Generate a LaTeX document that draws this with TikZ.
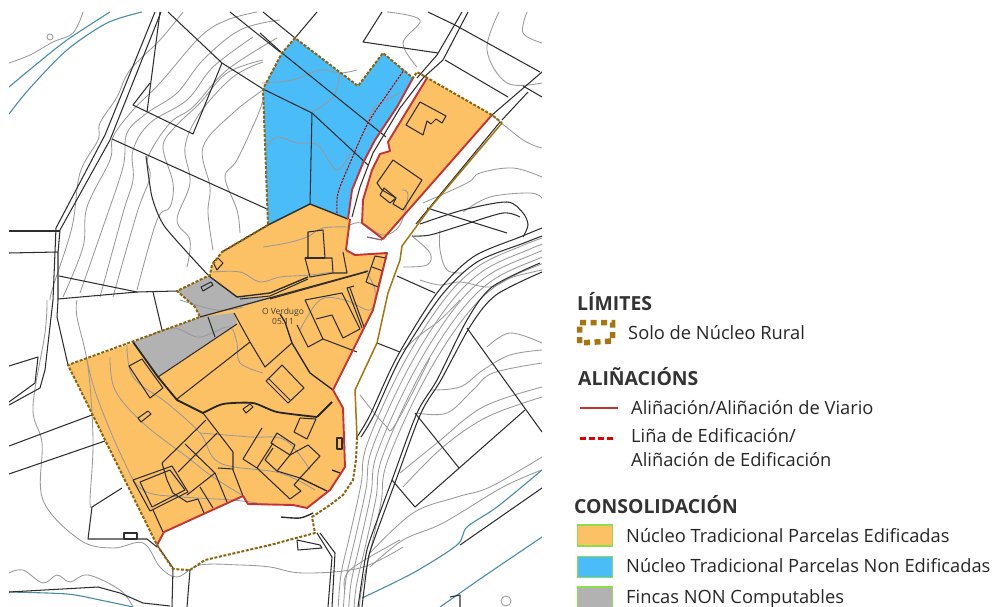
\documentclass[tikz,border=0pt]{standalone}
\usepackage{fontspec}
\setmainfont{Open Sans}
\definecolor{orangefill}{HTML}{FDC165}
\definecolor{bluefill}{HTML}{4ABCF8}
\definecolor{greyfill}{HTML}{B2B2B2}
\definecolor{limegreen}{HTML}{8BE04A}
\definecolor{brownline}{HTML}{A5760F}
\definecolor{redline}{HTML}{C83232}
\definecolor{riverblue}{HTML}{4A8CA8}
\tikzset{
 contour/.style={draw=black!40,line width=.85pt,line join=round},
 parcel/.style={draw=black!82,line width=1.05pt,line join=round},
 thick parcel/.style={draw=black!85,line width=1.8pt,line join=round},
 river/.style={draw=riverblue,line width=1.1pt},
 alignment/.style={draw=redline,line width=1.9pt,line join=round},
 limit/.style={draw=brownline!85!black,line width=2pt,dash pattern=on 3pt off 1.6pt,line join=round},
 limit solid/.style={draw=brownline,line width=1.5pt,line join=round},
 edification/.style={draw=red!75!black,line width=1.1pt,dash pattern=on 2.2pt off 1.2pt},
 legend text/.style={anchor=base west,inner sep=0pt,font=\fontsize{18.3}{20}\selectfont,text=black!85},
 legend title/.style={anchor=base west,inner sep=0pt,font=\fontsize{19.4}{20}\selectfont\bfseries,text=black!80},
 swatch/.style={draw=limegreen,line width=1.5pt,minimum width=35pt,minimum height=21pt,inner sep=0pt,anchor=north west}
}
\newcommand{\ctr}[1]{\draw[contour] plot[smooth,tension=.6] coordinates {#1};}
\begin{document}
\begin{tikzpicture}[x=1pt,y=-1pt]
\useasboundingbox (0,0) rectangle (995,607);
\begin{scope}
\clip (9,12) rectangle (542,607);
% fills
\fill[bluefill] (295,38)--(282,53)--(263,89)--(268,225)--(310,204)--(348,219)--(352,190)--(363,163)--(375,140)--(397,107)--(413,78)--(383,53)--(358,86)--cycle;
\fill[orangefill] (427,78)--(492,115)--(383,239)--(362,223)--(363,200)--(372,170)--(380,154)--(390,151)--(388,142)--cycle;
\fill[orangefill] (310,204)--(350,219)--(346,250)--(355,255)--(387,253)--(373,310)--(363,330)--(333,390)--(343,408)--(345,467)--(330,490)--(307,508)--(293,505)--(248,504)--(243,496)--(164,532)--(157,545)--(68,365)--(133,343)--(200,317)--(237,297)--(210,275)--(212,265)--(222,252)--(268,225)--cycle;
\fill[greyfill] (177,291)--(209,276)--(237,297)--(273,298)--(200,317)--(195,307)--(185,298)--cycle;
\fill[greyfill] (133,342)--(200,317)--(234,313)--(237,324)--(158,377)--cycle;
% contours, west slope
\ctr{(50,300)(53,287)(72,227)(80,173)(98,140)(100,123)(117,97)(130,70)(160,40)(183,12)}
\ctr{(63,297)(83,247)(87,207)(110,160)(113,137)(133,110)(160,83)(200,37)(227,20)(257,12)}
\ctr{(80,293)(103,227)(123,167)(127,133)(147,113)(177,93)(203,60)(240,30)(280,20)}
\ctr{(100,297)(123,213)(133,180)(133,150)(150,123)(187,100)(213,67)(253,37)}
\ctr{(113,297)(137,213)(150,177)(148,157)(170,123)(193,107)(227,70)(277,38)}
\ctr{(137,290)(157,220)(170,207)(173,183)(163,147)(175,127)(200,103)(227,73)(263,60)}
\ctr{(187,267)(190,240)(177,220)(190,183)(185,147)(200,113)(233,77)(263,62)}
\ctr{(213,250)(208,213)(210,187)(203,147)(233,113)(263,90)}
\ctr{(240,233)(237,210)(225,177)(237,160)(257,117)(263,100)}
\ctr{(9,63)(30,55)(53,42)(73,33)(83,12)}
\draw[contour] (50,37) circle[radius=3pt];
% contours, south-west
\ctr{(47,300)(45,333)(33,407)(42,443)(43,500)(80,540)(113,548)(143,543)(160,567)(177,577)(200,565)(240,565)(270,567)(303,573)(360,568)(403,547)}
\ctr{(77,300)(77,317)(88,367)(93,440)(90,500)(92,507)}
\ctr{(9,573)(23,570)(43,583)(57,575)(70,582)(88,575)(120,590)(133,607)}
\ctr{(87,360)(97,397)(122,457)(143,490)(183,497)(233,500)(270,505)}
\ctr{(110,357)(115,390)(143,423)(187,457)(213,477)(245,497)}
\ctr{(127,343)(133,377)(167,403)(200,433)(220,463)(280,473)(315,490)}
\ctr{(147,337)(173,328)(197,337)(212,333)(230,327)(237,343)(240,363)(263,373)}
\ctr{(200,433)(250,437)(285,440)(310,470)}
% blue and orange contours
\ctr{(267,147)(277,137)(297,143)(310,143)(320,147)(337,170)(350,153)}
\ctr{(262,83)(293,80)(320,70)(340,73)(357,70)}
\ctr{(310,113)(333,97)(340,73)}
\ctr{(368,123)(375,107)(400,93)}
\ctr{(213,272)(240,272)(260,282)(280,277)(310,275)(333,272)}
\ctr{(263,247)(287,243)(307,237)(323,228)(348,227)}
\ctr{(180,300)(217,310)(243,307)}
\ctr{(350,225)(362,223)(383,235)(400,225)(408,195)(402,190)}
\ctr{(300,330)(320,300)(345,300)(370,310)(375,290)(365,270)}
% contours, north-east
\ctr{(499,12)(487,50)(507,83)(542,83)}
\ctr{(527,12)(523,33)(542,43)}
\ctr{(492,115)(523,140)(542,148)}
\ctr{(387,12)(420,20)(403,43)(417,67)}
\ctr{(423,203)(467,183)(480,173)(513,168)(542,177)}
\ctr{(413,237)(430,253)(427,265)(403,267)}
\ctr{(440,230)(440,250)(447,270)(463,273)}
\ctr{(463,212)(490,197)(530,193)(542,198)}
\ctr{(420,280)(440,285)(460,282)(490,287)(513,277)(542,270)}
\ctr{(403,350)(420,335)(440,320)(460,300)}
% contours, east
\ctr{(487,347)(510,333)(542,343)}
\ctr{(430,390)(460,387)(483,370)(510,355)(542,350)}
\ctr{(417,413)(447,413)(473,390)(493,373)(542,363)}
\ctr{(400,473)(437,443)(483,407)(542,387)}
\ctr{(403,487)(443,447)(487,417)(542,397)}
\ctr{(370,553)(413,513)(457,497)(490,487)(542,457)}
\ctr{(370,567)(403,540)(443,523)(503,487)(542,470)}
\ctr{(360,395)(385,425)(395,425)(430,358)}
\ctr{(345,590)(350,570)(400,540)}
% road contours
\foreach \s in {5,10,15,20,25}{
  \begin{scope}[shift={(\s,\s*.9)}]
  \ctr{(333,607)(336,570)(345,530)(356,480)(362,440)(397,362)(437,298)(473,262)(520,240)(542,232)}
  \end{scope}}
% rivers
\draw[river] plot[smooth] coordinates {(9,87)(33,67)(67,40)(110,12)};
\draw[river] plot[smooth] coordinates {(9,114)(30,88)(67,50)(107,23)(142,12)};
\draw[river] plot[smooth] coordinates {(9,592)(67,594)(100,600)(133,607)};
\draw[river] plot[smooth,tension=.5] coordinates {(362,598)(413,573)(457,545)(467,527)(497,507)(542,470)};
\draw[river] plot[smooth,tension=.5] coordinates {(440,607)(483,577)(542,537)};
% parcels, north-west
\draw[parcel] (160,12)--(147,112);
\draw[parcel] (230,12)--(280,52);
\draw[parcel] (263,12)--(295,38)--(317,12);
\draw[parcel] (168,12)--(222,63)--(263,89)--(312,113)--(368,165);
\draw[parcel] (222,63)--(193,134)--(133,105)--(150,83);
\draw[parcel] (112,139)--(267,209);
\draw[parcel] plot[smooth,tension=.4] coordinates {(146,156)(152,197)(165,227)(208,275)};
\draw[parcel] (161,12)--(110,140)--(60,230)--(58,253)--(58,300)--(57,317)--(68,365);
\draw[parcel] (155,12)--(105,135)--(56,228)--(53,300)--(45,370)--(40,388)--(9,405);
\draw[parcel] (9,402)--(35,383)--(38,357)--(9,366);
\draw[parcel] (9,231)--(60,231);
\draw[parcel] (9,253)--(58,252);
\draw[parcel] (59,276)--(137,292)--(177,291);
\draw[parcel] (58,299)--(137,292);
\draw[parcel] (153,292)--(162,330);
\draw[parcel] (9,446)--(92,415);
\draw[parcel] (9,474)--(105,441);
\draw[parcel] (122,488)--(92,507)--(88,539)--(147,539)--(157,547);
\draw[parcel] (124,539) rectangle (137,533);
\draw[parcel] (157,545)--(173,568)--(172,607);
\draw[parcel] (190,570)--(187,607);
\draw[parcel] (9,592)--(98,587)--(120,593)--(143,603)--(170,606);
% parcels in blue
\draw[parcel] (312,113)--(310,204);
\draw[parcel] (282,53)--(386,137);
\draw[parcel] (260,33)--(282,53);
\draw[parcel,line width=1.4pt] (222,252)--(268,225)--(310,204)--(348,219);
% parcels north-east
\draw[parcel] (468,12)--(443,60)--(423,78)--(400,108)--(373,153)--(360,187)--(352,217);
\draw[parcel] (462,12)--(437,55)--(417,78);
\draw[parcel] (382,12)--(363,42)--(438,53);
\draw[parcel] (428,12)--(455,25)--(540,72);
\draw[parcel] (445,60)--(508,97);
\draw[parcel] (492,115)--(542,72);
\draw[parcel] (502,120)--(528,92);
\draw[parcel] (523,86)--(542,97);
\draw[parcel] (416,224)--(500,122);
% roads
\draw[parcel] plot[smooth,tension=.5] coordinates {(358,607)(365,560)(370,540)(392,480)(417,413)(437,380)(467,320)(492,287)(540,263)};
\draw[parcel] plot[smooth,tension=.5] coordinates {(362,607)(368,560)(374,540)(396,480)(421,413)(441,380)(471,325)(496,295)(542,272)};
\draw[parcel] plot[smooth,tension=.5] coordinates {(357,437)(370,415)(397,357)(437,293)(473,257)(520,237)(542,228)};
\draw[parcel] plot[smooth,tension=.5] coordinates {(361,437)(374,415)(401,357)(441,296)(477,262)(524,243)(542,236)};
\draw[parcel] (427,208)--(507,233);
\draw[parcel] plot[smooth,tension=.5] coordinates {(420,224)(463,210)(507,202)(523,213)(528,225)(523,237)};
\draw[parcel] plot[smooth,tension=.5] coordinates {(412,236)(430,235)(463,225)(503,213)(520,217)};
\draw[parcel] (397,276)--(435,293);
\draw[parcel] (467,328)--(542,432);
\draw[parcel] (415,413)--(459,468);
\draw[parcel] (525,410)--(415,507)--(392,480);
\draw[parcel] (460,545)--(542,488);
\draw[contour] (506,601) circle[radius=5pt];
\draw[parcel] (450,597)--(460,595)--(460,607);
\draw[parcel] (377,343)--(400,352);
% bottom
\draw[parcel] (317,533)--(332,557)--(328,607);
\draw[parcel] (320,533)--(335,553)--(332,607);
\draw[parcel] (297,540)--(320,545)--(322,548)--(298,550)--cycle;
\draw[parcel,line width=1.4pt] plot[smooth] coordinates {(281,517)(300,518)(313,513)};
\draw[draw=black!55,line width=1.3pt] (367,237)--(382,240);
% orange interior, upper middle
\draw[parcel] (308,232)--(323,230)--(325,258)--(332,258)--(333,273)--(310,277)--(305,258)--(308,257)--cycle;
\draw[parcel] (305,258)--(325,258);
\draw[parcel] (343,252)--(347,273)--(333,273);
\draw[parcel] (213,262)--(218,258)--(223,263)--(217,270)--cycle;
\draw[parcel] (201,287)--(211,282)--(213,285)--(203,291)--cycle;
\draw[parcel,line width=1.4pt] (209,276)--(237,297)--(270,293)--(308,277);
\draw[parcel] (240,299)--(270,296)--(308,279);
\draw[parcel,line width=1.2pt] (200,317)--(368,271);
\draw[parcel] (270,299)--(366,272);
\draw[parcel] (208,317)--(215,337);
\draw[parcel] (375,256)--(386,258)--(378,287)--(366,282)--cycle;
\draw[parcel] (372,267)--(383,271);
\draw[parcel] (305,300)--(342,293)--(360,329)--(343,338)--(332,315)--(316,319);
\draw[parcel] (305,300)--(323,339)--(308,347)--(297,325);
\draw[parcel] (323,339)--(357,352);
\draw[parcel] (354,286)--(347,288)--(362,328);
\draw[parcel] (350,288)--(364,327);
% orange interior, middle
\draw[parcel] (237,324)--(158,377);
\draw[parcel] (234,313)--(250,342)--(265,367)--(292,343);
\draw[parcel] (250,342)--(177,399);
\draw[parcel] (282,365)--(304,388)--(288,403)--(266,381)--cycle;
\draw[parcel] (268,378)--(290,400);
\draw[thick parcel,line width=1.3pt] (280,314)--(285,322)--(292,343)--(310,373)--(333,390);
\draw[parcel] (129,366)--(142,359)--(163,388)--(150,398)--cycle;
\draw[thick parcel] (133,342)--(158,377)--(177,400)--(203,413);
\draw[thick parcel] plot[smooth,tension=.4] coordinates {(203,413)(223,404)(253,403)(277,412)(317,417)};
\draw[thick parcel] (317,417)--(332,402);
\draw[parcel] (138,418)--(148,411)--(151,414)--(141,422)--cycle;
\draw[parcel] (243,409)--(250,404)--(253,407)--(246,413)--cycle;
% orange interior, lower
\draw[parcel] (203,413)--(233,452)--(233,470)--(243,496);
\draw[parcel] (206,420)--(162,463);
\draw[parcel] (162,463)--(167,480)--(173,493)--(187,502)--(198,499)--(204,513);
\draw[parcel] (185,444)--(215,473)--(227,502);
\draw[parcel] (217,433)--(178,472);
\draw[parcel] (218,468)--(233,469);
\draw[parcel] (215,473)--(187,495);
\draw[parcel] (200,487)--(213,508);
\draw[parcel] (133,480)--(172,466)--(188,492)--(150,511)--cycle;
\draw[parcel] (140,482)--(170,470)--(185,490)--(152,507)--cycle;
\draw[parcel] (153,510)--(163,532);
\draw[parcel] (262,428)--(243,459)--(257,468)--(273,443);
\draw[parcel] (277,433)--(295,445)--(290,455)--(271,443)--cycle;
\draw[parcel] (273,448)--(265,460)--(277,471)--(290,455);
\draw[parcel] (308,445)--(320,456)--(300,478)--(277,471);
\draw[parcel] (308,445)--(290,455);
\draw[parcel] (257,468)--(290,499)--(301,491)--(294,485)--(300,478);
\draw[thick parcel,line width=1.3pt] (300,478)--(327,491);
\draw[thick parcel,line width=1.3pt] (332,470)--(340,473);
\draw[parcel] (337,438) rectangle (342,449);
\draw[parcel] (300,418)--(316,419)--(307,439)--(294,432)--cycle;
% orange top-right buildings
\draw[parcel] (420,102)--(446,116)--(442,123)--(436,119)--(431,124)--(427,121)--(423,135)--(406,125)--cycle;
\draw[parcel] (393,160)--(422,180)--(403,210)--(393,204)--(396,198)--(382,190)--(377,183)--cycle;
\draw[parcel] (384,188)--(396,198)--(390,203)--(380,195)--cycle;
% alignments
\draw[alignment] (346,250)--(350,219);
\draw[alignment] (413,78)--(397,107)--(375,140)--(363,163)--(352,190)--(348,219);
\draw[alignment] (427,78)--(388,142)--(390,151)--(380,154)--(372,170)--(363,200)--(362,223)--(383,239)--(492,115);
\draw[alignment] (346,250)--(355,255)--(387,253)--(373,310)--(363,330)--(333,390)--(343,408)--(345,467)--(330,490)--(307,508)--(293,505)--(248,504)--(243,496)--(164,532)--(157,545);
% edification line
\draw[edification] plot[smooth,tension=.5] coordinates {(337,213)(338,193)(350,163)(368,123)(388,93)(404,70)};
% limits
\draw[limit solid] (402,246)--(400,260)--(388,293)--(377,343)--(355,390)--(357,437);
\draw[limit solid] (402,246)--(430,208)--(502,123);
\draw[limit] (357,437)--(356,460)--(353,480)--(343,495)--(330,505)--(312,517)--(315,533)--(270,545)--(205,560)--(190,570)--(173,569)--(157,545)--(68,365)--(200,317)--(195,307)--(185,298)--(177,291)--(210,275)--(212,265)--(222,252)--(268,225)--(263,89)--(282,53)--(295,38)--(358,86)--(383,53)--(413,78)--(417,72)--(492,115)--(502,123);
\end{scope}
% map label
\node[inner sep=0pt,align=center,font=\fontsize{8.5}{10}\selectfont,text=black!75] (place) at (283,316) {O Verdugo\\05.11};
% legend
\node[legend title] (t1) at (577,310) {LÍMITES};
\draw[draw=brownline,line width=5.5pt,dash pattern=on 6pt off 4.5pt] (579.5,343)--(579.5,322.5)--(612.5,322.5)--(612.5,341)--cycle;
\node[legend text] (l1) at (628,339) {Solo de Núcleo Rural};
\node[legend title] (t2) at (578,385) {ALIÑACIÓNS};
\coordinate (a1) at (580,408); \coordinate (a2) at (618,408);
\draw[draw=redline,line width=2.4pt] (a1)--(a2);
\node[legend text] (l2) at (631,414) {Aliñación/Aliñación de Viario};
\coordinate (b1) at (580,438.5); \coordinate (b2) at (615,438.5);
\draw[draw=red!90!black,line width=2.2pt,dash pattern=on 6pt off 3pt] (b1)--(b2);
\node[legend text] (l3) at (631,442) {Liña de Edificación/};
\node[legend text] (l4) at (631,466.5) {Aliñación de Edificación};
\node[legend title] (t3) at (574,513) {CONSOLIDACIÓN};
\node[swatch,fill=orangefill] (s1) at (576.5,524) {};
\node[legend text] (l5) at (626,542) {Núcleo Tradicional Parcelas Edificadas};
\node[swatch,fill=bluefill] (s2) at (576.5,555.5) {};
\node[legend text] (l6) at (626,572) {Núcleo Tradicional Parcelas Non Edificadas};
\node[swatch,fill=greyfill] (s3) at (576.5,586) {};
\node[legend text] (l7) at (626,603) {Fincas NON Computables};
\end{tikzpicture}
\end{document}
